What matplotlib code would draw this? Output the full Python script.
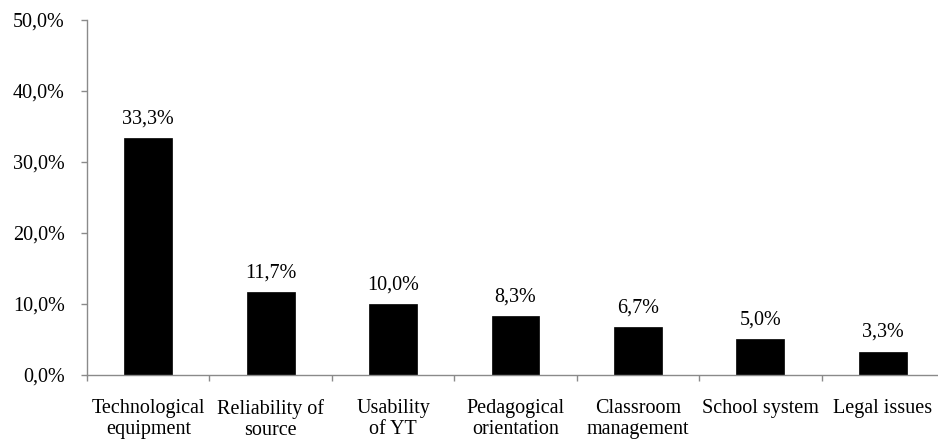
import matplotlib
matplotlib.use("Agg")
import matplotlib.pyplot as plt
from matplotlib.ticker import FuncFormatter, FixedLocator, NullFormatter

categories = [
    "Technological\nequipment",
    "Reliability of\nsource",
    "Usability\nof YT",
    "Pedagogical\norientation",
    "Classroom\nmanagement",
    "School system",
    "Legal issues",
]
values = [33.3, 11.7, 10.0, 8.3, 6.7, 5.0, 3.3]
y_ticks = [0, 10, 20, 30, 40, 50]

plt.rcParams["font.family"] = ["Liberation Serif", "DejaVu Serif"]
axis_grey = "#8a8a8a"
fs = 14.5

fig = plt.figure(figsize=(9.38, 4.44), dpi=100)
ax = fig.add_axes([0.0928, 0.1554, 0.9136, 0.8000])

x = list(range(len(categories)))
ax.bar(x, values, width=0.39, color="black", edgecolor="black", linewidth=0.5)

def pct(v):
    return f"{v:.1f}%".replace(".", ",")

for xi, v in zip(x, values):
    ax.annotate(pct(v), (xi, v), xytext=(0, 10.5), textcoords="offset points",
                ha="center", va="baseline", fontsize=fs, color="black")

ax.set_xlim(-0.5, len(categories) - 0.5)
ax.set_ylim(0, 50)
ax.set_yticks(y_ticks)
ax.yaxis.set_major_formatter(FuncFormatter(lambda v, _: pct(v)))

# category labels centred under bars, tick marks on the boundaries
ax.xaxis.set_major_locator(FixedLocator([i - 0.5 for i in range(len(categories) + 1)]))
ax.xaxis.set_major_formatter(NullFormatter())
ax.xaxis.set_minor_locator(FixedLocator(x))
ax.set_xticklabels(categories, minor=True, linespacing=1.15)
ax.tick_params(axis="x", which="minor", length=0, pad=17, labelsize=fs)
ax.tick_params(axis="x", which="major", length=4, width=1, color=axis_grey, direction="out")
ax.tick_params(axis="y", length=4, width=1, color=axis_grey, direction="out",
               labelsize=fs, pad=12)

for s in ("top", "right"):
    ax.spines[s].set_visible(False)
for s in ("left", "bottom"):
    ax.spines[s].set_color(axis_grey)
    ax.spines[s].set_linewidth(1)

fig.savefig("out.png", dpi=100)
